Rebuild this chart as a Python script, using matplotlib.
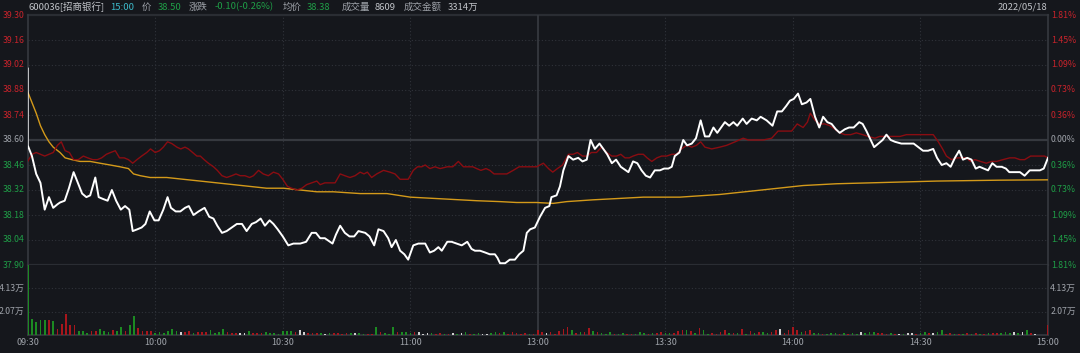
import matplotlib
matplotlib.use("Agg")
import matplotlib.pyplot as plt

plt.rcParams['font.family'] = ['Noto Sans CJK SC', 'DejaVu Sans']

# ---- data (x = minutes since 09:30, trading time) ----
price_t = [0, 0, 1, 2, 3, 4, 5, 6, 7, 7.6, 8.7, 9.7, 10.8, 11.8, 12.8, 13.8, 14.7, 15.9, 16.7, 17.7,
           18.8, 19.8, 20.8, 21.9, 22.9, 23.9, 24.7, 25.8, 26.8, 27.7, 28.7, 29.8, 30.8, 31.9, 32.9, 33.7,
           34.8, 35.9, 37.0, 37.9, 39.0, 40.2, 41.6, 42.7, 43.7, 44.6, 45.7, 46.8, 48.0, 49.2, 50.4, 51.5,
           52.7, 53.7, 54.8, 55.8, 56.9, 57.8, 58.8, 60.0, 61.3, 62.5, 64.1, 65.5, 66.8, 67.8, 68.8, 69.9,
           71.7, 72.5, 73.5, 74.6, 75.7, 76.8, 77.8,
           79.4, 80.4, 81.5, 82.5, 83.7, 84.8, 85.6, 86.6, 87.6, 88.6, 89.5, 90.7, 91.9, 93.5, 94.6, 95.6,
           96.6, 97.4, 98.7, 99.7, 100.9, 102.1, 103.4, 104.4, 105.2, 106.4, 107.6, 108.7, 109.9, 110.5,
           111.1, 112.3, 113.4, 114.6, 115.6, 116.6, 117.4, 118.2, 119.3, 120.5, 121.7, 122.7, 123.2, 124.4,
           125.2, 126.0, 127.2, 128.3, 129.5, 130.5, 131.5, 132.4, 133.4, 134.5, 135.4, 136.3, 137.4, 138.4,
           139.5, 141.3, 142.4, 143.4, 144.4, 145.4, 146.4, 147.5, 148.7, 149.7, 150.7, 151.5, 152.2, 153.3,
           154.2, 155.1, 156.2, 157.2, 158.3, 159.3, 160.3, 161.3, 162.2,
           164.0, 165.0, 166.0, 166.9, 168.2, 169.1, 170.3, 171.5, 172.4, 173.8, 175.2, 176.3, 177.4, 178.4,
           179.3, 180.2, 181.2, 182.1, 183.2, 184.1, 185.2, 186.2, 187.1, 188.1, 189.1, 190.1, 191.0, 192.2,
           193.2, 194.3, 195.6, 196.4, 197.3, 198.3, 199.1, 200.1, 201.1, 202.0, 203.0, 204.0, 205.5, 207.5,
           208.4, 209.5, 210.6, 211.8, 213.0, 213.9, 215.0, 216.1, 217.1, 218.1, 219.1, 220.0, 221.0, 222.0,
           223.0, 223.9, 224.9, 225.9, 226.9, 227.9, 229.1, 230.1, 230.9, 232.2, 233.4, 234.5, 235.7, 236.9,
           238.1, 239.0, 240.0]
price = [39.00, 38.57, 38.51, 38.41, 38.36, 38.21, 38.28, 38.22, 38.24, 38.25,
         38.26, 38.33, 38.42, 38.36, 38.30, 38.28, 38.29, 38.39, 38.28, 38.27,
         38.26, 38.32, 38.26, 38.21, 38.23, 38.21, 38.09, 38.10, 38.11, 38.13,
         38.20, 38.15, 38.15, 38.21, 38.28, 38.22, 38.20, 38.20, 38.22, 38.23,
         38.18, 38.20, 38.22, 38.17, 38.16, 38.12, 38.08, 38.09, 38.11, 38.13,
         38.13, 38.09, 38.13, 38.14, 38.16, 38.12, 38.15, 38.13, 38.10, 38.06,
         38.01, 38.02, 38.02, 38.03, 38.08, 38.08, 38.05, 38.05, 38.02, 38.07,
         38.12, 38.08, 38.06, 38.06, 38.09,
         38.08, 38.06, 38.01, 38.10, 38.09, 38.05, 38.00, 38.04, 37.98, 37.96,
         37.93, 38.01, 38.02, 38.02, 37.97, 37.98, 38.00, 37.98, 38.03, 38.03,
         38.02, 38.01, 38.03, 37.99, 37.98, 37.98, 37.97, 37.96, 37.96, 37.94,
         37.91, 37.91, 37.93, 37.93, 37.96, 37.98, 38.08, 38.10, 38.11, 38.17,
         38.22, 38.23, 38.28, 38.29, 38.34, 38.43, 38.51, 38.49, 38.50, 38.48,
         38.49, 38.60, 38.55, 38.58, 38.55, 38.52, 38.47, 38.49, 38.45, 38.42,
         38.48, 38.47, 38.43, 38.40, 38.39, 38.43, 38.43, 38.44, 38.44, 38.45,
         38.51, 38.53, 38.60, 38.57, 38.58, 38.61, 38.71, 38.62, 38.62, 38.67,
         38.64,
         38.70, 38.68, 38.70, 38.68, 38.72, 38.69, 38.72, 38.71, 38.73, 38.71,
         38.68, 38.76, 38.76, 38.79, 38.82, 38.83, 38.86, 38.80, 38.81, 38.83,
         38.73, 38.67, 38.73, 38.70, 38.69, 38.66, 38.64, 38.66, 38.67, 38.67,
         38.70, 38.69, 38.65, 38.60, 38.56, 38.58, 38.60, 38.63, 38.60, 38.59,
         38.58, 38.58, 38.58, 38.56, 38.54, 38.54, 38.55, 38.50, 38.46, 38.47,
         38.45, 38.50, 38.54, 38.49, 38.50, 38.49, 38.44, 38.45, 38.44, 38.43,
         38.47, 38.45, 38.45, 38.44, 38.42, 38.42, 38.42, 38.40, 38.43, 38.43,
         38.43, 38.44, 38.50]

index_t = [0, 1, 2, 3, 4, 5, 6, 7, 7.9, 8.8, 9.8, 10.8, 11.9, 13.1, 14.1, 15.3, 16.4, 17.4, 18.5, 19.5,
           20.6, 21.6, 22.7, 23.7, 24.7, 25.7, 26.8, 28.0, 28.9, 30.0, 31.0, 31.9, 32.9, 33.9, 35.1, 36.0,
           37.0, 37.8, 38.8, 39.8, 40.6, 41.5, 42.5, 43.7, 44.6, 45.7, 46.8, 48.0, 49.0, 50.0, 51.1, 52.2,
           53.1, 54.3, 55.4, 56.6, 57.8, 59.0, 60.0, 61.1, 62.1, 63.3, 64.5, 65.6, 66.8, 68.0, 68.8, 69.9,
           71.1, 72.3, 73.5, 74.6, 75.8, 77.0,
           78.2, 79.1, 79.9, 80.9, 82.1, 83.7, 85.2, 86.4, 87.6, 88.8, 89.5, 90.7, 91.7, 92.7, 93.5, 94.6,
           95.8, 97.0, 98.7, 100.0, 101.3, 102.5, 103.7, 104.7, 105.6, 106.6, 107.8, 108.7, 109.7, 111.1,
           112.7, 114.2, 115.6, 117.0, 118.5, 119.7, 121.3, 122.5, 123.5, 124.6, 125.8, 127.2, 128.3, 129.3,
           130.5, 131.5, 132.6, 133.8, 135.0, 136.2, 137.4, 138.5, 139.5, 140.5, 141.5, 142.4, 143.6, 144.8,
           145.7, 146.8, 148.0, 149.1, 150.3, 151.5, 152.6, 153.8, 155.0, 156.2, 157.3, 158.3, 159.3, 160.9,
           162.8, 164.4, 166.4, 168.3, 169.5, 171.1, 173.0, 175.0, 176.5, 178.1, 179.7, 181.0, 182.4, 183.4,
           184.1, 185.2, 186.3, 187.5, 188.7, 189.9, 191.0, 192.2, 193.6, 194.9, 196.4, 197.7, 199.3, 200.4,
           202.0, 203.6, 205.2, 206.7, 207.9, 209.9, 211.8, 213.0, 214.2, 215.2, 216.1, 217.3, 218.6, 219.6,
           220.8, 221.8, 222.8, 224.1, 225.5, 226.7, 227.9, 229.4, 231.0, 232.2, 233.4, 234.5, 235.9, 237.3,
           239.2, 240.0]
index = [38.48, 38.52, 38.53, 38.52, 38.51, 38.52, 38.53, 38.57, 38.59, 38.54,
         38.53, 38.49, 38.49, 38.51, 38.50, 38.49, 38.49, 38.50, 38.52, 38.53,
         38.54, 38.50, 38.50, 38.49, 38.47, 38.49, 38.51, 38.53, 38.55, 38.53,
         38.54, 38.56, 38.59, 38.58, 38.56, 38.55, 38.56, 38.55, 38.53, 38.51,
         38.51, 38.49, 38.47, 38.45, 38.43, 38.40, 38.39, 38.40, 38.41, 38.40,
         38.40, 38.39, 38.40, 38.43, 38.41, 38.40, 38.42, 38.41, 38.38, 38.34,
         38.33, 38.32, 38.33, 38.35, 38.36, 38.37, 38.35, 38.36, 38.36, 38.36,
         38.41, 38.40, 38.39, 38.40,
         38.42, 38.41, 38.42, 38.39, 38.41, 38.43, 38.42, 38.41, 38.38, 38.38,
         38.38, 38.43, 38.45, 38.45, 38.46, 38.44, 38.45, 38.44, 38.45, 38.45,
         38.48, 38.45, 38.45, 38.45, 38.44, 38.43, 38.44, 38.43, 38.41, 38.41,
         38.41, 38.43, 38.45, 38.45, 38.45, 38.45, 38.47, 38.44, 38.42, 38.44,
         38.46, 38.52, 38.52, 38.53, 38.51, 38.51, 38.53, 38.53, 38.56, 38.53,
         38.51, 38.51, 38.52, 38.50, 38.50, 38.51, 38.52, 38.52, 38.50, 38.48,
         38.50, 38.51, 38.51, 38.52, 38.52, 38.55, 38.57, 38.56, 38.57, 38.59,
         38.56, 38.55,
         38.56, 38.57, 38.59, 38.61, 38.60, 38.60, 38.60, 38.61, 38.65, 38.65,
         38.65, 38.69, 38.67, 38.70, 38.75, 38.71, 38.69, 38.69, 38.68, 38.66,
         38.64, 38.63, 38.63, 38.64, 38.63, 38.62, 38.61, 38.62, 38.62, 38.62,
         38.62, 38.63, 38.63, 38.63, 38.63, 38.63, 38.59, 38.55, 38.51, 38.49,
         38.50, 38.50, 38.50, 38.48, 38.49, 38.48, 38.47, 38.48, 38.48, 38.49,
         38.50, 38.50, 38.49, 38.49, 38.51, 38.51, 38.51, 38.50]

avg_t = [0, 1, 2, 3, 4, 5, 6, 7.6, 8.8, 10.4, 12.3, 14.7, 17.0, 19.4, 21.7, 23.7, 24.9, 26.5, 28.8, 32.7,
         36.6, 40.6, 44.5, 48.4, 52.3, 56.2, 60.2, 64.1, 68.0, 71.9, 78.2, 84.5, 90.0, 97.8, 105.6, 111.1,
         115.0, 119.7, 123.6, 126.8, 133.0, 137.0, 144.8, 153.4, 156.5, 162.8, 170.7, 178.5, 182.4, 190.3,
         198.1, 213.8, 228.7, 240.0]
avg = [38.87, 38.81, 38.75, 38.68, 38.63, 38.59, 38.56, 38.53, 38.50, 38.49,
       38.48, 38.48, 38.47, 38.46, 38.45, 38.44, 38.41, 38.40, 38.39, 38.39,
       38.38, 38.37, 38.36, 38.35, 38.34, 38.33, 38.33, 38.32, 38.31, 38.31,
       38.30, 38.30, 38.28, 38.27, 38.26, 38.255, 38.25, 38.25, 38.245, 38.255,
       38.265, 38.27, 38.28, 38.28, 38.285, 38.295, 38.315, 38.335, 38.345, 38.355,
       38.36, 38.37, 38.375, 38.377]

# volume per minute, 万
volume = [6.2, 1.42, 1.18, 1.33, 1.33, 1.33, 1.24, 0.53, 0.97, 1.86,
          0.89, 0.89, 0.38, 0.38, 0.2, 0.38, 0.38, 0.53, 0.38, 0.3,
          0.44, 0.38, 0.68, 0.35, 0.89, 1.68, 0.59, 0.38, 0.38, 0.38,
          0.2, 0.3, 0.2, 0.35, 0.5, 0.38, 0.3, 0.3, 0.35, 0.2,
          0.27, 0.27, 0.27, 0.44, 0.2, 0.3, 0.5, 0.27, 0.2, 0.15,
          0.15, 0.2, 0.32, 0.15, 0.15, 0.15, 0.27, 0.15, 0.15, 0.09,
          0.38, 0.35, 0.35, 0.27, 0.44, 0.3, 0.15, 0.2, 0.15, 0.15,
          0.09, 0.15, 0.15, 0.15, 0.09, 0.15, 0.2, 0.15, 0.15,
          0.09, 0.09, 0.09, 0.74, 0.24, 0.15, 0.09, 0.74, 0.24, 0.30,
          0.30, 0.15, 0.30, 0.24, 0.09, 0.18, 0.15, 0.09, 0.15, 0.09,
          0.09, 0.15, 0.09, 0.18, 0.24, 0.09, 0.09, 0.15, 0.09, 0.09,
          0.18, 0.24, 0.15, 0.30, 0.09, 0.24, 0.15, 0.09, 0.15, 0.09,
          0.09,
          0.44, 0.24, 0.18, 0.30, 0.09, 0.35, 0.53, 0.68, 0.44, 0.15,
          0.24, 0.30, 0.59, 0.38, 0.24, 0.15, 0.09, 0.24, 0.09, 0.09,
          0.15, 0.09, 0.09, 0.09, 0.24, 0.18, 0.09, 0.15, 0.15, 0.24,
          0.18, 0.15, 0.15, 0.38, 0.44, 0.44, 0.32, 0.15, 0.59, 0.44,
          0.09, 0.15, 0.09,
          0.30, 0.44, 0.21, 0.15, 0.15, 0.53, 0.09, 0.38, 0.21, 0.30,
          0.24, 0.21, 0.30, 0.44, 0.50, 0.21, 0.44, 0.68, 0.44, 0.30,
          0.32, 0.44, 0.15, 0.15, 0.09, 0.09, 0.15, 0.15, 0.09, 0.15,
          0.09, 0.15, 0.09, 0.27, 0.15, 0.24, 0.30, 0.15, 0.15, 0.09,
          0.15, 0.09, 0.09, 0.09, 0.15, 0.18, 0.09, 0.18, 0.30, 0.15,
          0.18, 0.24, 0.44, 0.09, 0.15, 0.09, 0.09, 0.09, 0.15, 0.09,
          0.15, 0.09, 0.09, 0.15, 0.15, 0.18, 0.18, 0.30, 0.15, 0.30,
          0.15, 0.24, 0.41, 0.15, 0.09, 0, 0, 0.89]
# r = up, g = down, w = flat
vol_dir = ("gggggrgrrr" "rrgggrrggg" "rggrggrrrr" "ggggggwrrg" "rrrggggrrr"
           "wwgrrrgggg" "gggrwwrrrg" "wgrrrrgwg"
           "grrgrgggrg" "ggrwwwgrrg" "rwgwgrggww" "ggrgrrrrrg" "r"
           "rrwrrrrrgr" "grrgrgggrg" "grrgggrgrr" "ggrrrgrgrg" "grr"
           "rrgrgrgrgr" "ggrrwrrrrg" "rrggrgggrg" "rggwgggrrr"
           "grwgwwrggr" "wggrrgrgrg" "rgrgrrgggw" "gwgrwrrr")

price_levels = [39.30, 39.16, 39.02, 38.88, 38.74, 38.60, 38.46, 38.32, 38.18, 38.04, 37.90]
pct_labels = ["1.81%", "1.45%", "1.09%", "0.73%", "0.36%", "0.00%",
              "0.36%", "0.73%", "1.09%", "1.45%", "1.81%"]
vol_levels = [2.07, 4.13]
time_ticks = [0, 30, 60, 90, 120, 150, 180, 210, 240]
time_labels = ["09:30", "10:00", "10:30", "11:00", "13:00", "13:30", "14:00", "14:30", "15:00"]
pre_close = 38.60

# ---- styling ----
bg = "#15171c"
grid_c = "#30333a"
solid_c = "#36393f"
red = "#c8232b"
green = "#1f9e47"
gray = "#9fa3aa"
bar_colors = {"r": "#a8161c", "g": "#1c8a22", "w": "#cfcfcf"}

W, H = 1080, 353
fig = plt.figure(figsize=(W / 100, H / 100), dpi=100, facecolor=bg)
x0, x1 = 27.7, 1048
ax = fig.add_axes([x0 / W, (H - 265) / H, (x1 - x0) / W, 250 / H], facecolor=bg)
vax = fig.add_axes([x0 / W, (H - 335) / H, (x1 - x0) / W, 70 / H], facecolor=bg)

for a in (ax, vax):
    a.set_xlim(0, 240)
    for s in a.spines.values():
        s.set_visible(False)
    a.tick_params(length=0)
ax.set_ylim(37.90, 39.30)
ax.set_xticks([])
ax.set_yticks([])
vax.set_ylim(0, 6.2)
vax.set_yticks([])

# grid
for lv in price_levels:
    if lv in (39.30, 37.90):
        ax.axhline(lv, color="#2a2d33", lw=1.6, clip_on=False)
    elif lv == pre_close:
        ax.axhline(lv, color=solid_c, lw=1.6)
    else:
        ax.axhline(lv, color=grid_c, lw=0.8, ls=(0, (1, 2)))
for lv in vol_levels:
    vax.axhline(lv, color=grid_c, lw=0.8, ls=(0, (1, 2)))
vax.axhline(0, color=solid_c, lw=1.2, clip_on=False)
for a in (ax, vax):
    for t in time_ticks[1:-1]:
        if t == 120:
            a.axvline(t, color=solid_c, lw=1.3)
        else:
            a.axvline(t, color=grid_c, lw=0.8, ls=(0, (1, 2)))
    a.axvline(0, color=solid_c, lw=1.2, clip_on=False)
    a.axvline(240, color=solid_c, lw=1.2, clip_on=False)

# lines
ax.plot(avg_t, avg, color="#d49a1a", lw=1.0, zorder=3)
ax.plot(index_t, index, color="#8a0d12", lw=1.0, zorder=4)
ax.plot(price_t, price, color="white", lw=1.4, zorder=5)

# volume bars
vax.bar(range(len(volume)), volume, width=0.38,
        color=[bar_colors[c] for c in vol_dir], zorder=3)

# axis labels
ytr = ax.get_yaxis_transform()
for lv, pl in zip(price_levels, pct_labels):
    c = red if lv > pre_close else (green if lv < pre_close else gray)
    ax.text(-0.0245, lv, f"{lv:.2f}", color=c, fontsize=6.3, ha="left", va="center",
            transform=ytr, clip_on=False)
    ax.text(1.0029, lv, pl, color=c, fontsize=6.3, ha="left", va="center",
            transform=ytr, clip_on=False)
vtr = vax.get_yaxis_transform()
for lv in vol_levels:
    vax.text(-0.003, lv, f"{lv:.2f}万", color=gray, fontsize=6.3, ha="right", va="center",
             transform=vtr, clip_on=False)
    vax.text(1.0022, lv, f"{lv:.2f}万", color=gray, fontsize=6.3, ha="left", va="center",
             transform=vtr, clip_on=False)
vax.set_xticks(time_ticks)
vax.set_xticklabels(time_labels, color=gray, fontsize=6.5)
vax.tick_params(axis="x", pad=2)

# header
hy = 1 - 7 / H
head = [(28.3, "600036[招商银行]", "#c0c3c8"), (110, "15:00", "#3cb9c9"), (141.7, "价", gray),
        (158, "38.50", green), (189, "涨跌", gray), (215, "-0.10(-0.26%)", green),
        (283, "均价", gray), (307, "38.38", green), (341.7, "成交量", gray),
        (375, "8609", "#c0c3c8"), (404, "成交金额", gray), (448, "3314万", "#c0c3c8")]
for x, s, c in head:
    fig.text(x / W, hy, s, color=c, fontsize=6.8, ha="left", va="center")
fig.text(1047 / W, hy, "2022/05/18", color="#c0c3c8", fontsize=6.8, ha="right", va="center")

fig.savefig("out.png", dpi=100, facecolor=bg)
